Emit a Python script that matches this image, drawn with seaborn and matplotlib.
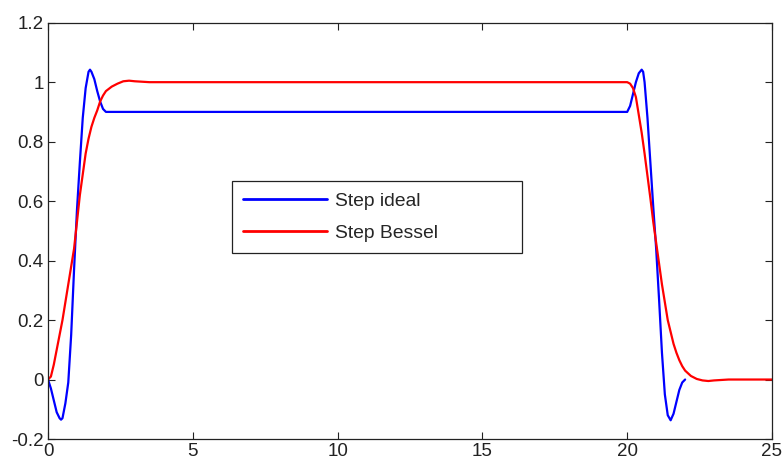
import numpy as np
import pandas as pd
import matplotlib
matplotlib.use("Agg")
import matplotlib.pyplot as plt
import seaborn as sns

# Step ideal (blue): rising edge, flat top, falling edge
ideal_x = [0, 0.1, 0.2, 0.3, 0.4, 0.45, 0.5, 0.6, 0.7, 0.8, 0.9, 1.0, 1.1, 1.2,
           1.3, 1.4, 1.45, 1.5, 1.6, 1.7, 1.8, 1.9, 2.0,
           19.9, 20.0, 20.1, 20.2, 20.3, 20.4, 20.5, 20.55, 20.6, 20.7, 20.8,
           20.9, 21.0, 21.1, 21.2, 21.3, 21.4, 21.5, 21.6, 21.7, 21.8, 21.9, 22.0]
ideal_y = [0, -0.03, -0.07, -0.11, -0.13, -0.135, -0.13, -0.08, -0.01, 0.15,
           0.37, 0.57, 0.73, 0.88, 0.98, 1.035, 1.042, 1.035, 1.01, 0.97, 0.935,
           0.91, 0.9,
           0.9, 0.9, 0.92, 0.96, 1.0, 1.03, 1.042, 1.035, 1.0, 0.88, 0.73,
           0.58, 0.44, 0.27, 0.09, -0.05, -0.12, -0.137, -0.115, -0.075,
           -0.035, -0.01, 0.0]

# Step Bessel (red)
bessel_x = [0, 0.1, 0.2, 0.3, 0.4, 0.5, 0.6, 0.7, 0.8, 0.9, 1.0, 1.1, 1.2, 1.3,
            1.4, 1.5, 1.6, 1.7, 1.8, 1.9, 2.0, 2.2, 2.4, 2.6, 2.8, 3.0, 3.5,
            19.8, 20.0, 20.1, 20.2, 20.3, 20.4, 20.5, 20.6, 20.7, 20.8, 20.9,
            21.0, 21.1, 21.2, 21.3, 21.4, 21.5, 21.6, 21.7, 21.8, 21.9, 22.0,
            22.2, 22.4, 22.6, 22.8, 23.0, 23.5, 25.0]
bessel_y = [0, 0.01, 0.05, 0.1, 0.15, 0.2, 0.26, 0.32, 0.38, 0.44, 0.53, 0.62,
            0.69, 0.76, 0.81, 0.85, 0.88, 0.905, 0.935, 0.955, 0.97, 0.985,
            0.995, 1.003, 1.005, 1.003, 1.0,
            1.0, 1.0, 0.995, 0.98, 0.95, 0.89, 0.83, 0.76, 0.685, 0.61, 0.53,
            0.46, 0.39, 0.32, 0.26, 0.2, 0.16, 0.12, 0.09, 0.065, 0.045, 0.03,
            0.012, 0.002, -0.003, -0.005, -0.003, 0.0, 0.0]

labels = ["Step ideal", "Step Bessel"]

df = pd.concat([
    pd.DataFrame({"t": ideal_x, "v": ideal_y, "signal": labels[0]}),
    pd.DataFrame({"t": bessel_x, "v": bessel_y, "signal": labels[1]}),
], ignore_index=True)

sns.set_theme(style="white")
plt.rcParams["font.family"] = ["Liberation Sans", "DejaVu Sans"]

fig = plt.figure(figsize=(7.84, 4.61), dpi=100)
ax = fig.add_axes([48 / 784, 1 - 439 / 461, 724 / 784, 416.3 / 461])

sns.lineplot(data=df, x="t", y="v", hue="signal", hue_order=labels,
             palette={"Step ideal": "#0000ff", "Step Bessel": "#ff0000"},
             estimator=None, sort=False, linewidth=1.6, ax=ax)

ax.set_xlim(0, 25)
ax.set_ylim(-0.2, 1.2)
ax.set_xticks([0, 5, 10, 15, 20, 25])
ax.set_yticks([-0.2, 0, 0.2, 0.4, 0.6, 0.8, 1.0, 1.2])
ax.set_yticklabels(["-0.2", "0", "0.2", "0.4", "0.6", "0.8", "1", "1.2"])
ax.set_xlabel("")
ax.set_ylabel("")
ax.tick_params(direction="in", length=5, width=0.8, colors="#222222",
               labelcolor="#222222", labelsize=13.5, top=True, right=True,
               bottom=True, left=True, pad=3)
for s in ax.spines.values():
    s.set_color("#222222")
    s.set_linewidth(0.9)

handles, _ = ax.get_legend_handles_labels()
leg = ax.legend(handles, labels, loc="upper left",
                bbox_to_anchor=(0.2537, 0.4457, 0.4006, 0.174), mode="expand",
                borderaxespad=0, fancybox=False, framealpha=1, edgecolor="#222222",
                fontsize=13.9, handlelength=4.35, handletextpad=0.4,
                borderpad=0.6, labelspacing=0.73)
leg.get_frame().set_linewidth(0.9)
for line in leg.get_lines():
    line.set_linewidth(2)

fig.savefig("out.png", dpi=100)
